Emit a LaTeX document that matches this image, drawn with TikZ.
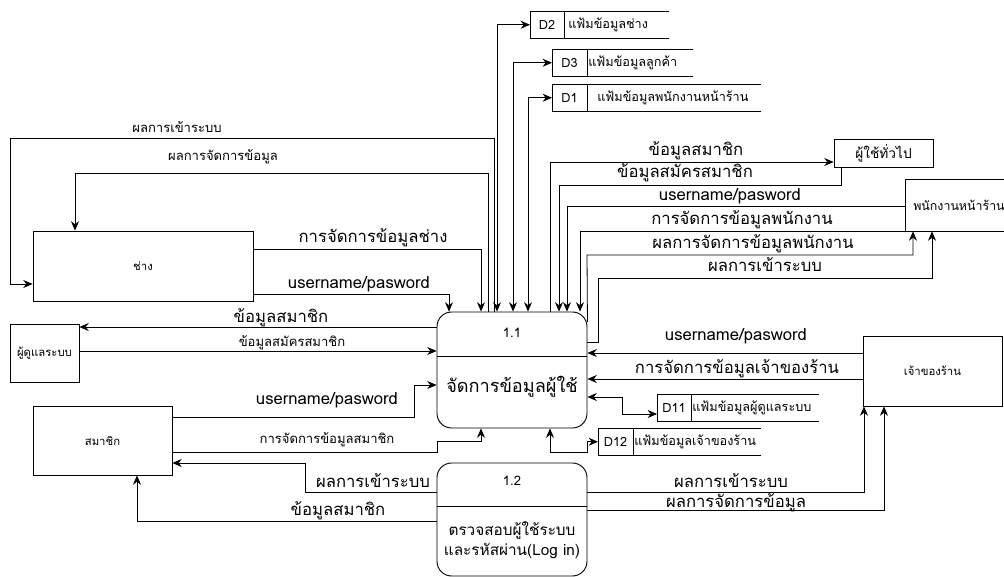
\documentclass[tikz,border=0pt]{standalone}
\usepackage{fontspec}
\setmainfont[Script=Thai]{Loma}
\usetikzlibrary{arrows.meta}
\newdimen\dpx \dpx=0.75pt

\tikzset{
  flow/.style={-{Stealth[length=7pt,width=6pt]}, line width=0.6pt},
  dflow/.style={{Stealth[length=7pt,width=6pt]}-{Stealth[length=7pt,width=6pt]}, line width=0.6pt},
  entity/.style={draw, line width=0.6pt, inner sep=0pt, font=\fontsize{8.5}{10}\selectfont},
  proc/.style={draw, rounded corners=11pt, line width=0.7pt, inner sep=0pt},
  lbl/.style={font=\fontsize{12.5}{14}\selectfont, inner sep=0pt, anchor=base},
  slbl/.style={font=\fontsize{9.8}{11}\selectfont, inner sep=0pt, anchor=base},
  store/.style={inner sep=0pt, minimum height=27\dpx, anchor=north west},
  stxt/.style={font=\fontsize{9.5}{11}\selectfont, inner sep=0pt},
}

\begin{document}
\begin{tikzpicture}[x=0.75pt,y=-0.75pt]
  \useasboundingbox (0,0) rectangle (1004,577);

  % external entities
  \node[entity, minimum width=220\dpx, minimum height=70\dpx] (chang) at (143,266) {ช่าง};
  \node[entity, minimum width=69\dpx, minimum height=58\dpx] (admin) at (44.5,353) {ผู้ดูแลระบบ};
  \node[entity, minimum width=139\dpx, minimum height=69\dpx] (member) at (102.5,440.5) {สมาชิก};
  \node[entity, minimum width=99\dpx, minimum height=28\dpx, font=\fontsize{10.3}{12}\selectfont] (user) at (883.5,153) {ผู้ใช้ทั่วไป};
  \node[entity, minimum width=108\dpx, minimum height=52\dpx, font=\fontsize{9.3}{11}\selectfont] (staff) at (959,205) {พนักงานหน้าร้าน};
  \node[entity, minimum width=139\dpx, minimum height=70\dpx] (owner) at (932.5,371) {เจ้าของร้าน};

  % processes
  \node[proc, minimum width=150\dpx, minimum height=116\dpx] (p11) at (512,370) {};
  \draw[line width=0.7pt] (p11.west |- 0,356) -- (p11.east |- 0,356);
  \node[slbl] (p11id) at (512,338) {1.1};
  \node[lbl, font=\fontsize{13.6}{15}\selectfont] (p11name) at (512,393) {จัดการข้อมูลผู้ใช้};
  \node[proc, minimum width=150\dpx, minimum height=113\dpx] (p12) at (512,519.5) {};
  \draw[line width=0.7pt] (p12.west |- 0,506) -- (p12.east |- 0,506);
  \node[slbl] (p12id) at (512,485) {1.2};
  \node[lbl, font=\fontsize{11.5}{15}\selectfont] (p12a) at (512,535) {ตรวจสอบผู้ใช้ระบบ};
  \node[lbl, font=\fontsize{11.5}{15}\selectfont] (p12b) at (512,555) {และรหัสผ่าน(Log in)};

  % data stores
  \node[store, minimum width=138\dpx] (d2) at (530,11) {};
  \draw[line width=0.6pt] (d2.north east) -- (d2.north west) -- (d2.south west) -- (d2.south east);
  \draw[line width=0.6pt] (d2.north west) ++(34,0) -- ++(0,27);
  \node[stxt] (d2id) at (547,24.5) {D2};
  \node[stxt, anchor=west] (d2name) at (568,24.5) {แฟ้มข้อมูลช่าง};

  \node[store, minimum width=140\dpx] (d3) at (552,49) {};
  \draw[line width=0.6pt] (d3.north east) -- (d3.north west) -- (d3.south west) -- (d3.south east);
  \draw[line width=0.6pt] (d3.north west) ++(35,0) -- ++(0,27);
  \node[stxt] (d3id) at (569.5,62.5) {D3};
  \node[stxt, anchor=west] (d3name) at (588,62.5) {แฟ้มข้อมูลลูกค้า};

  \node[store, minimum width=208\dpx] (d1) at (552,84) {};
  \draw[line width=0.6pt] (d1.north east) -- (d1.north west) -- (d1.south west) -- (d1.south east);
  \draw[line width=0.6pt] (d1.north west) ++(35,0) -- ++(0,27);
  \node[stxt] (d1id) at (569.5,97.5) {D1};
  \node[stxt, anchor=west] (d1name) at (597,97.5) {แฟ้มข้อมูลพนักงานหน้าร้าน};

  \node[store, minimum width=161\dpx] (d11) at (657,394) {};
  \draw[line width=0.6pt] (d11.north east) -- (d11.north west) -- (d11.south west) -- (d11.south east);
  \draw[line width=0.6pt] (d11.north west) ++(34,0) -- ++(0,27);
  \node[stxt] (d11id) at (674,407.5) {D11};
  \node[stxt, anchor=west] (d11name) at (692,407.5) {แฟ้มข้อมูลผู้ดูแลระบบ};

  \node[store, minimum width=162\dpx] (d12) at (598,428) {};
  \draw[line width=0.6pt] (d12.north east) -- (d12.north west) -- (d12.south west) -- (d12.south east);
  \draw[line width=0.6pt] (d12.north west) ++(35,0) -- ++(0,27);
  \node[stxt] (d12id) at (615.5,441.5) {D12};
  \node[stxt, anchor=west] (d12name) at (634,441.5) {แฟ้มข้อมูลเจ้าของร้าน};

  % flows around ช่าง
  \draw[flow] (p11.north -| 494,0) -- (494,138) -| (10,284) -- (chang.west |- 0,284);
  \draw[flow] (p11.north -| 488,0) -- (488,173) -| (chang.north -| 75,0);
  \draw[flow] (chang.east |- 0,249) -| (p11.north -| 481,0);
  \draw[flow] (chang.east |- 0,294) -| (p11.north -| 449,0);
  \node[slbl] (l1) at (177,133) {ผลการเข้าระบบ};
  \node[slbl] (l2) at (223,161) {ผลการจัดการข้อมูล};
  \node[lbl] (l3) at (373,243) {การจัดการข้อมูลช่าง};
  \node[lbl] (l4) at (359,289) {username/pasword};

  % flows to data stores
  \draw[dflow] (p11.north -| 497,0) |- (d2.west);
  \draw[dflow] (p11.north -| 513,0) |- (d3.west);
  \draw[dflow] (p11.north -| 528,0) |- (d1.west);
  \draw[dflow] (p11.east |- 0,397) -| (622,414) -- (d11.west |- 0,414);
  \draw[dflow] (p11.south -| 550,0) |- (587,452) |- (d12.west);

  % flows to ผู้ใช้ทั่วไป and พนักงานหน้าร้าน
  \draw[flow] (p11.north -| 550,0) |- (user.west |- 0,162);
  \draw[flow] (user.south -| 841,0) |- (559,185) -- (p11.north -| 559,0);
  \draw[flow] (staff.west |- 0,206) -| (p11.north -| 567,0);
  \draw[flow] (staff.south west) -| (p11.north -| 580,0);
  \draw[flow] (p11.east |- 0,322) -- (587,255) -| (staff.south -| 913,0);
  \draw[flow] (p11.east |- 0,342) -| (598,278) -| (staff.south -| 932,0);
  \node[lbl] (l5) at (696,156) {ข้อมูลสมาชิก};
  \node[lbl] (l6) at (685,178) {ข้อมูลสมัครสมาชิก};
  \node[lbl] (l7) at (730,201) {username/pasword};
  \node[lbl] (l8) at (742,225) {การจัดการข้อมูลพนักงาน};
  \node[lbl] (l9) at (753,249) {ผลการจัดการข้อมูลพนักงาน};
  \node[lbl] (l10) at (765,272) {ผลการเข้าระบบ};

  % flows to เจ้าของร้าน
  \draw[flow] (owner.west |- 0,353) -- (p11.east |- 0,353);
  \draw[flow] (owner.west |- 0,379) -- (p11.east |- 0,379);
  \draw[flow] (p12.east |- 0,492) -| (owner.south -| 864,0);
  \draw[flow] (p12.east |- 0,510) -| (owner.south -| 884,0);
  \node[lbl] (l11) at (736,341) {username/pasword};
  \node[lbl] (l12) at (737,374) {การจัดการข้อมูลเจ้าของร้าน};
  \node[lbl] (l13) at (731,487) {ผลการเข้าระบบ};
  \node[lbl] (l14) at (736,508) {ผลการจัดการข้อมูล};

  % flows to ผู้ดูแลระบบ and สมาชิก
  \draw[flow] (p11.west |- 0,327) -- (admin.east |- 0,327);
  \draw[flow] (admin.east |- 0,351) -- (p11.west |- 0,351);
  \draw[flow] (member.east |- 0,417) -| (414,385) -- (p11.west |- 0,385);
  \draw[flow] (member.east |- 0,452) -| (437,441) -| (p11.south -| 481,0);
  \draw[flow] (p12.west |- 0,492) -| (305,463) -- (member.east |- 0,463);
  \draw[flow] (p12.west |- 0,521) -| (member.south -| 137,0);
  \node[lbl] (l15) at (281,323) {ข้อมูลสมาชิก};
  \node[slbl] (l16) at (292,347) {ข้อมูลสมัครสมาชิก};
  \node[lbl] (l17) at (327,405) {username/pasword};
  \node[slbl] (l18) at (327,444) {การจัดการข้อมูลสมาชิก};
  \node[lbl] (l19) at (373,487) {ผลการเข้าระบบ};
  \node[lbl] (l20) at (338,515) {ข้อมูลสมาชิก};
\end{tikzpicture}
\end{document}
